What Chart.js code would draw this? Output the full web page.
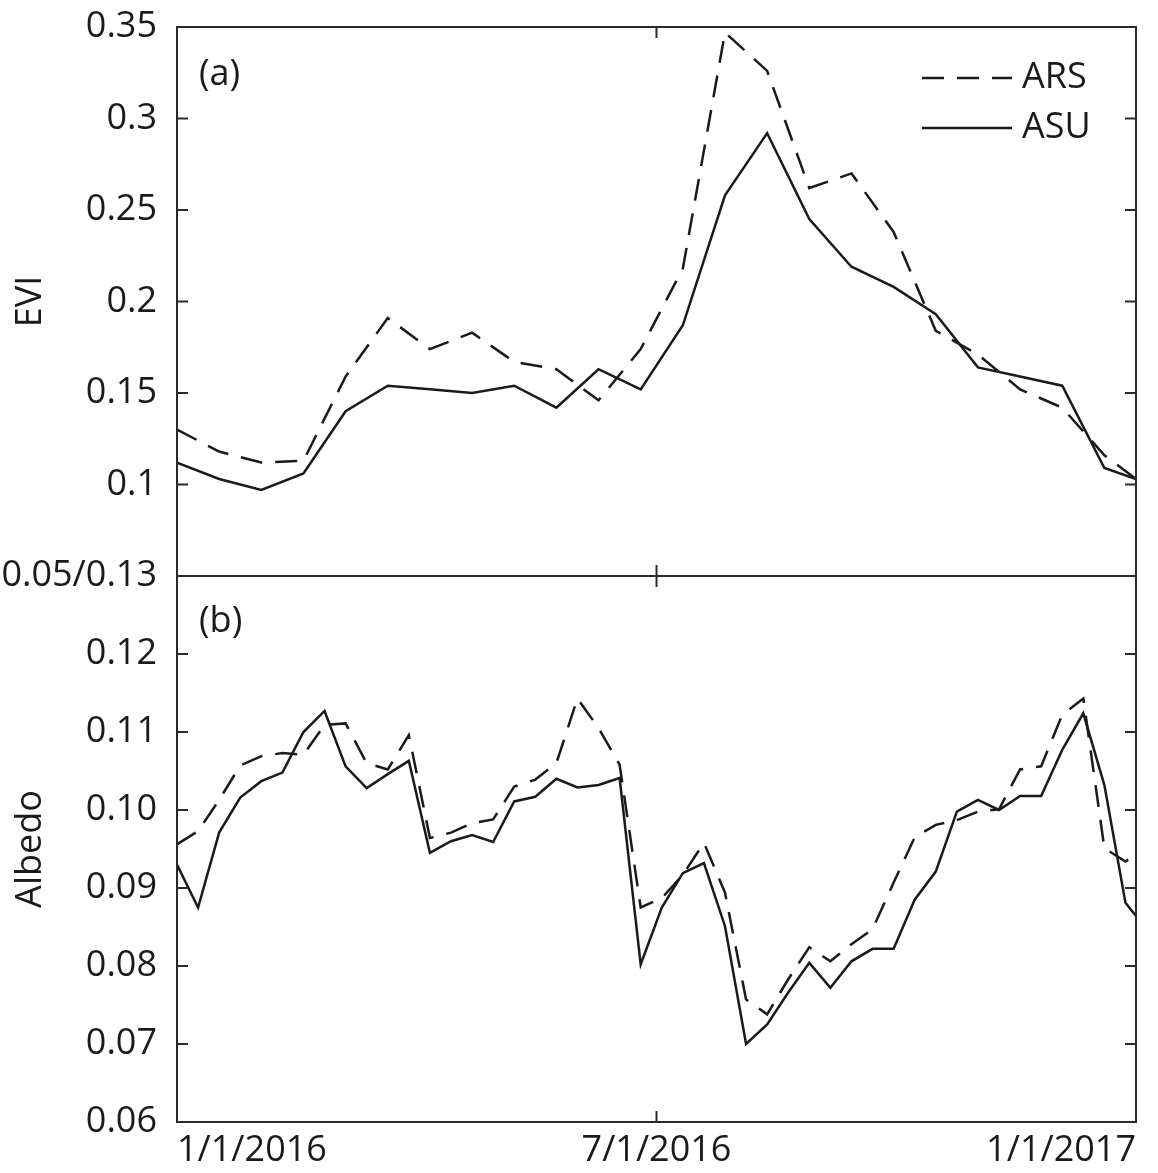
<!DOCTYPE html>
<html>
<head>
<meta charset="utf-8">
<script src="https://cdn.jsdelivr.net/npm/chart.js@4.4.1/dist/chart.umd.min.js"></script>
<style>
  html, body { margin: 0; padding: 0; background: #fff; }
  #wrap { width: 1158px; height: 1173px; }
</style>
</head>
<body>
<div id="wrap"><canvas id="evi-albedo" width="1158" height="1173"></canvas></div>
<script>
// 16-day EVI composites
let eviDates = ['2016-01-01', '2016-01-17', '2016-02-02', '2016-02-18', '2016-03-05', '2016-03-21',
    '2016-04-06', '2016-04-22', '2016-05-08', '2016-05-24', '2016-06-09', '2016-06-25',
    '2016-07-11', '2016-07-27', '2016-08-12', '2016-08-28', '2016-09-13', '2016-09-29',
    '2016-10-15', '2016-10-31', '2016-11-16', '2016-12-02', '2016-12-18', '2016-12-30'];
let eviARS = [0.130, 0.118, 0.112, 0.113, 0.159, 0.191, 0.174, 0.183, 0.167, 0.163, 0.146, 0.174,
    0.218, 0.347, 0.326, 0.262, 0.270, 0.238, 0.184, 0.171, 0.152, 0.142, 0.116, 0.103];
let eviASU = [0.112, 0.103, 0.097, 0.106, 0.140, 0.154, 0.152, 0.150, 0.154, 0.142, 0.163, 0.152,
    0.187, 0.258, 0.292, 0.245, 0.219, 0.208, 0.193, 0.164, 0.159, 0.154, 0.109, 0.103];

// 8-day albedo composites
let albedoDates = ['2016-01-01', '2016-01-09', '2016-01-17', '2016-01-25', '2016-02-02', '2016-02-10',
    '2016-02-18', '2016-02-26', '2016-03-05', '2016-03-13', '2016-03-21', '2016-03-29',
    '2016-04-06', '2016-04-14', '2016-04-22', '2016-04-30', '2016-05-08', '2016-05-16',
    '2016-05-24', '2016-06-01', '2016-06-09', '2016-06-17', '2016-06-25', '2016-07-03',
    '2016-07-11', '2016-07-19', '2016-07-27', '2016-08-04', '2016-08-12', '2016-08-20',
    '2016-08-28', '2016-09-05', '2016-09-13', '2016-09-21', '2016-09-29', '2016-10-07',
    '2016-10-15', '2016-10-23', '2016-10-31', '2016-11-08', '2016-11-16', '2016-11-24',
    '2016-12-02', '2016-12-10', '2016-12-18', '2016-12-26', '2016-12-30'];
let albedoARS = [0.0956, 0.0973, 0.1013, 0.1057, 0.1069, 0.1073, 0.1071, 0.1109, 0.1111, 0.1060,
    0.1052, 0.1096, 0.0964, 0.0971, 0.0983, 0.0988, 0.1030, 0.1039, 0.1060, 0.1143,
    0.1105, 0.1058, 0.0875, 0.0887, 0.0917, 0.0958, 0.0894, 0.0757, 0.0738, 0.0783,
    0.0824, 0.0806, 0.0828, 0.0847, 0.0907, 0.0965, 0.0981, 0.0987, 0.0998, 0.1001,
    0.1052, 0.1056, 0.1122, 0.1143, 0.0951, 0.0934, 0.0943];
let albedoASU = [0.0930, 0.0875, 0.0971, 0.1016, 0.1037, 0.1048, 0.1100, 0.1127, 0.1056, 0.1028,
    0.1046, 0.1063, 0.0945, 0.0960, 0.0968, 0.0959, 0.1011, 0.1017, 0.1040, 0.1029,
    0.1032, 0.1041, 0.0802, 0.0875, 0.0919, 0.0932, 0.0851, 0.0700, 0.0725, 0.0766,
    0.0804, 0.0772, 0.0806, 0.0822, 0.0822, 0.0885, 0.0921, 0.0998, 0.1013, 0.1000,
    0.1018, 0.1018, 0.1077, 0.1124, 0.1032, 0.0881, 0.0864];

// x axis ticks
let xTickDates = ['2016-01-01', '2016-07-01', '2016-12-30'];
let xTickLabels = ['1/1/2016', '7/1/2016', '1/1/2017'];

const FONT = '"Open Sans", "DejaVu Sans", sans-serif';
const INK = '#1a1a1a';
const TICK = 11;

// days since the first date of the series
function dayOf(s) {
    let [y, m, d] = s.split('-').map(Number);
    return (Date.UTC(y, m - 1, d) - Date.UTC(2016, 0, 1)) / 86400000;
}

function points(dates, values) {
    return dates.map((d, i) => ({ x: dayOf(d), y: values[i] }));
}

function lineSet(label, data, axis, dash) {
    return {
        label: label,
        data: data,
        yAxisID: axis,
        borderColor: INK,
        borderWidth: 2.5,
        borderDash: dash,
        pointRadius: 0,
        tension: 0,
        fill: false
    };
}

function trimZeros(v) {
    return String(Number(v.toFixed(2)));
}

// fixed width for the left axes, and no extra room for the end labels
function fitPanelAxis(s) {
    s.width = 177;
    s.paddingTop = 0;
    s.paddingBottom = 0;
}

// box around each panel, inward ticks, panel letters and the legend
const panelFrame = {
    id: 'panelFrame',
    afterDraw(chart) {
        const { ctx, chartArea } = chart;
        const { left, right } = chartArea;
        const xs = chart.scales.x;
        const seg = (x1, y1, x2, y2) => {
            ctx.beginPath();
            ctx.moveTo(x1, y1);
            ctx.lineTo(x2, y2);
            ctx.stroke();
        };
        ctx.save();
        ctx.strokeStyle = '#2a2a2a';
        ctx.lineWidth = 2;
        ['evi', 'alb'].forEach(id => {
            const s = chart.scales[id];
            ctx.strokeRect(left, s.top, right - left, s.bottom - s.top);
            s.ticks.forEach(t => {
                const y = s.getPixelForValue(t.value);
                seg(left, y, left + TICK, y);
                seg(right, y, right - TICK, y);
            });
            xs.ticks.forEach(t => {
                const x = xs.getPixelForValue(t.value);
                seg(x, s.top, x, s.top + TICK);
                seg(x, s.bottom, x, s.bottom - TICK);
            });
        });

        ctx.fillStyle = INK;
        ctx.font = '36px ' + FONT;
        ctx.textBaseline = 'middle';
        ctx.textAlign = 'left';
        ctx.fillText('(a)', left + 22, chart.scales.evi.top + 48);
        ctx.fillText('(b)', left + 22, chart.scales.alb.top + 46);

        // legend, using the styles of the EVI lines
        const evi = chart.scales.evi;
        chart.data.datasets.filter(ds => ds.yAxisID === 'evi').forEach((ds, i) => {
            const y = evi.top + 51 + i * 50;
            ctx.strokeStyle = ds.borderColor;
            ctx.lineWidth = ds.borderWidth;
            ctx.setLineDash(ds.borderDash || []);
            seg(right - 214, y, right - 124, y);
            ctx.setLineDash([]);
            ctx.fillText(ds.label, right - 114, y);
        });
        ctx.restore();
    }
};

let chart = new Chart(document.getElementById('evi-albedo'), {
    type: 'line',
    data: {
        datasets: [
            lineSet('ARS', points(eviDates, eviARS), 'evi', [22, 13]),
            lineSet('ASU', points(eviDates, eviASU), 'evi', []),
            lineSet('ARS', points(albedoDates, albedoARS), 'alb', [22, 13]),
            lineSet('ASU', points(albedoDates, albedoASU), 'alb', [])
        ]
    },
    options: {
        responsive: false,
        animation: false,
        layout: { padding: { left: 0, right: 22, top: 27, bottom: 0 } },
        plugins: {
            legend: { display: false },
            tooltip: { enabled: false }
        },
        scales: {
            x: {
                type: 'linear',
                position: 'bottom',
                min: dayOf(xTickDates[0]),
                max: dayOf(xTickDates[2]),
                grid: { display: false },
                border: { display: false },
                afterBuildTicks: s => { s.ticks = xTickDates.map(d => ({ value: dayOf(d) })); },
                afterFit: s => { s.height = 51; s.paddingLeft = 0; s.paddingRight = 0; },
                ticks: {
                    autoSkip: false,
                    maxRotation: 0,
                    align: 'inner',
                    padding: -1,
                    color: INK,
                    font: { size: 36, family: FONT },
                    callback: v => xTickLabels[xTickDates.map(dayOf).indexOf(v)]
                }
            },
            evi: {
                type: 'linear',
                position: 'left',
                stack: 'panels',
                stackWeight: 549,
                weight: 1,
                min: 0.05,
                max: 0.35,
                grid: { display: false, drawTicks: false },
                border: { display: false },
                afterFit: fitPanelAxis,
                title: {
                    display: true,
                    text: 'EVI',
                    color: INK,
                    padding: { top: 9, bottom: 0 },
                    font: { size: 36, family: FONT }
                },
                ticks: {
                    stepSize: 0.05,
                    autoSkip: false,
                    padding: 20,
                    color: INK,
                    font: { size: 36, family: FONT },
                    callback: v => Math.abs(v - 0.05) < 1e-9 ? '0.05/0.13' : trimZeros(v)
                }
            },
            alb: {
                type: 'linear',
                position: 'left',
                stack: 'panels',
                stackWeight: 546,
                weight: 0,
                min: 0.06,
                max: 0.13,
                grid: { display: false, drawTicks: false },
                border: { display: false },
                afterFit: fitPanelAxis,
                title: {
                    display: true,
                    text: 'Albedo',
                    color: INK,
                    padding: { top: 9, bottom: 0 },
                    font: { size: 36, family: FONT }
                },
                ticks: {
                    stepSize: 0.01,
                    autoSkip: false,
                    padding: 20,
                    color: INK,
                    font: { size: 36, family: FONT },
                    callback: v => Math.abs(v - 0.13) < 1e-9 ? '' : v.toFixed(2)
                }
            }
        }
    },
    plugins: [panelFrame]
});
</script>
</body>
</html>
